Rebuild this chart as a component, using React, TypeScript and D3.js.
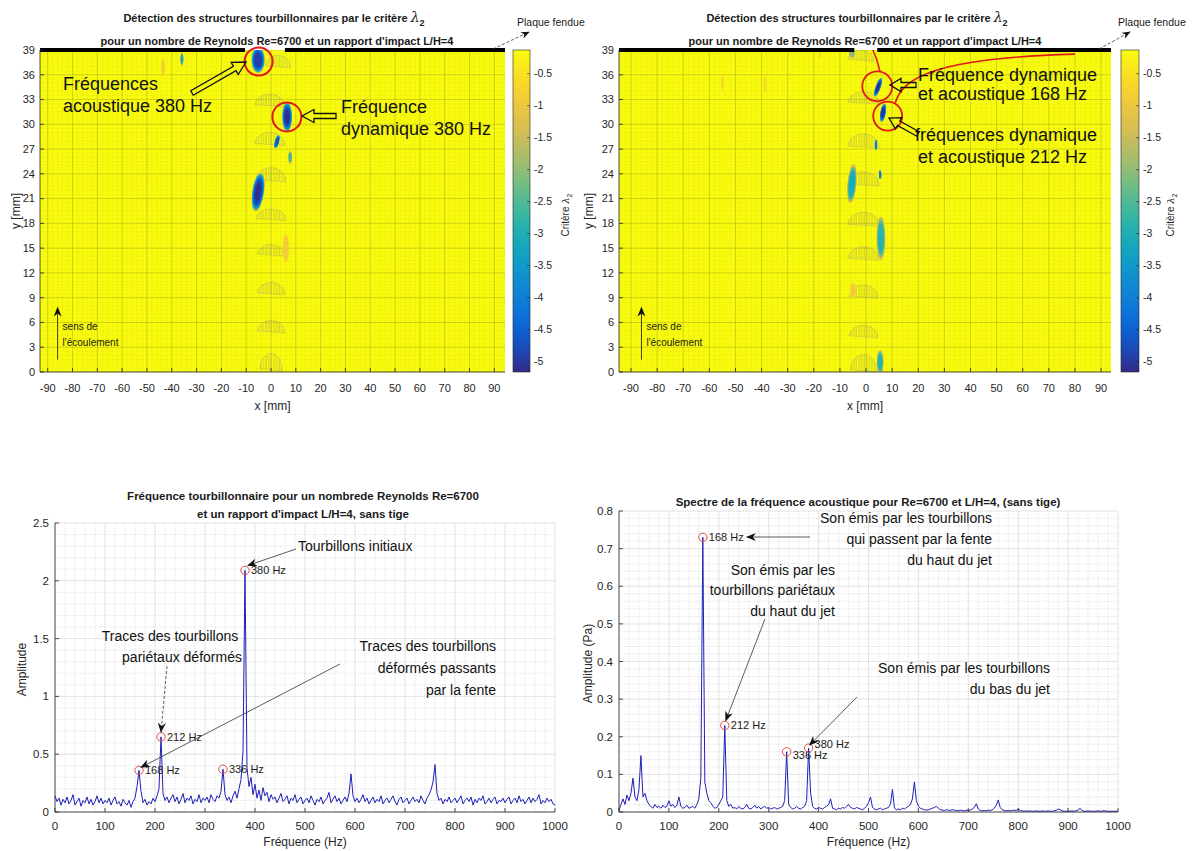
import React from 'react';
import * as d3 from 'd3';

const W = 1204;
const H = 851;
const FONT = "'Liberation Sans', Arial, Helvetica, sans-serif";

// ---------- heat-map data ----------
const mapXTicks = [-90, -80, -70, -60, -50, -40, -30, -20, -10, 0, 10, 20, 30, 40, 50, 60, 70, 80, 90];
const mapYTicks = [0, 3, 6, 9, 12, 15, 18, 21, 24, 27, 30, 33, 36, 39];
const cbTicks = [-0.5, -1, -1.5, -2, -2.5, -3, -3.5, -4, -4.5, -5];
const cbDomain = [-5.16, -0.13];
const parulaStops = ['#352a87', '#0363e1', '#1485d4', '#06a7c6', '#38b99e', '#92bf73', '#d9ba56', '#fcce2e', '#f9fb0e'];

// vortex cores: [x mm, y mm, rx mm, ry mm, min lambda2, angle deg]
const blobsLeft: number[][] = [
  [-5.2, 37.8, 2.7, 1.6, -5.1, 0],
  [6.5, 30.9, 2.0, 1.8, -5.15, 0],
  [2.4, 27.9, 0.85, 0.85, -4.9, 15],
  [7.7, 26.0, 0.7, 0.8, -2.8, 0],
  [-5.2, 21.8, 2.4, 2.4, -5.15, 8],
  [6.0, 15.0, 1.3, 1.8, -1.1, 0],
  [-35.9, 37.9, 0.6, 0.8, -3.2, 0],
  [-43.5, 36.9, 0.7, 1.2, -1.0, 0],
];
const blobsRight: number[][] = [
  [4.6, 34.5, 0.95, 1.25, -5.15, 20],
  [6.5, 31.4, 1.05, 1.15, -5.15, 10],
  [3.8, 27.5, 0.45, 0.65, -4.4, 0],
  [5.4, 23.9, 0.45, 0.55, -4.4, 0],
  [-5.4, 22.8, 1.7, 2.4, -3.2, 5],
  [5.7, 16.2, 1.7, 2.7, -3.0, 0],
  [-5.0, 9.9, 1.2, 0.9, -1.1, 0],
  [5.4, 1.2, 1.3, 1.5, -3.0, 0],
  [-5.4, 38.6, 1.2, 0.6, -2.2, 0],
  [-55, 35, 0.5, 1.0, -0.85, 0],
  [-38.7, 34.8, 0.5, 1.0, -0.85, 0],
  [-17.6, 38.7, 0.5, 0.8, -0.85, 0],
];
// hatched ghost structures: [x centre mm, top y mm, half width mm, height mm]
const domesLeft: number[][] = [
  [2.8, 38.6, 5, 1.4], [-0.5, 33.9, 6, 1.4], [-0.5, 29.3, 6, 1.5], [0, 25.0, 6, 1.6],
  [0, 20.0, 6, 1.3], [0, 15.7, 5.5, 1.3], [0, 11.1, 5.5, 1.4], [0, 6.5, 5.5, 1.4], [0, 2.5, 4.5, 2.0],
];
const domesRight: number[][] = [
  [-2, 39.2, 5, 1.2], [-1, 34.2, 6, 1.4], [-1, 29.1, 6, 1.6], [-1, 24.5, 6, 1.6],
  [-1, 19.6, 6, 1.6], [-1, 15.4, 6, 1.5], [-1, 10.8, 5.5, 1.5], [-1, 5.9, 5.5, 1.4], [-1, 2.4, 5, 2.0],
];
const plateLeft = [[-93.1, -10.5], [5.6, 94.3]];
const plateRight = [[-94.6, -4.5], [4.3, 93.8]];

// ---------- spectra data (step 4 Hz from 0 to 1000 Hz) ----------
const freqStep = 4;
const ampDyn = [
  0.14, 0.09, 0.12, 0.06, 0.11, 0.08, 0.13, 0.07, 0.10, 0.15, 0.06, 0.09, 0.12, 0.05, 0.10, 0.08, 0.13, 0.07, 0.11, 0.06, 0.09, 0.14, 0.08, 0.12, 0.07, 0.10,
  0.08, 0.12, 0.06, 0.10, 0.13, 0.07, 0.09, 0.05, 0.11, 0.08, 0.06, 0.10, 0.04, 0.09, 0.12, 0.22, 0.36, 0.18, 0.08, 0.11, 0.06, 0.09, 0.07, 0.12, 0.09,
  0.14, 0.20, 0.65, 0.16, 0.10, 0.13, 0.08, 0.12, 0.15, 0.09, 0.13, 0.07, 0.11, 0.16, 0.08, 0.12, 0.10, 0.14, 0.07, 0.11, 0.09, 0.15, 0.08, 0.12, 0.10,
  0.13, 0.08, 0.15, 0.11, 0.09, 0.14, 0.12, 0.18, 0.37, 0.15, 0.10, 0.13, 0.08, 0.14, 0.18, 0.12, 0.20, 0.28, 0.53, 2.09, 0.38, 0.22, 0.30, 0.15, 0.24,
  0.12, 0.19, 0.10, 0.21, 0.14, 0.17, 0.09, 0.15, 0.11, 0.13, 0.08, 0.12, 0.16, 0.09, 0.11, 0.14, 0.07, 0.12, 0.10, 0.15, 0.08, 0.11, 0.13, 0.07, 0.10,
  0.12, 0.08, 0.14, 0.10, 0.06, 0.11, 0.09, 0.13, 0.07, 0.10, 0.12, 0.17, 0.08, 0.11, 0.14, 0.09, 0.12, 0.07, 0.10, 0.13, 0.09, 0.16, 0.33, 0.14, 0.09,
  0.12, 0.08, 0.11, 0.15, 0.09, 0.12, 0.07, 0.10, 0.13, 0.08, 0.11, 0.09, 0.14, 0.07, 0.10, 0.12, 0.08, 0.11, 0.14, 0.09, 0.06, 0.11, 0.13, 0.08, 0.10,
  0.12, 0.07, 0.10, 0.13, 0.09, 0.11, 0.08, 0.14, 0.10, 0.07, 0.12, 0.15, 0.19, 0.26, 0.41, 0.16, 0.10, 0.12, 0.07, 0.11, 0.09, 0.13, 0.08, 0.10, 0.12,
  0.08, 0.11, 0.14, 0.07, 0.10, 0.12, 0.09, 0.13, 0.06, 0.11, 0.08, 0.12, 0.10, 0.14, 0.07, 0.09, 0.12, 0.08, 0.11, 0.13, 0.07, 0.10, 0.09, 0.12, 0.08,
  0.11, 0.13, 0.07, 0.10, 0.12, 0.08, 0.14, 0.09, 0.11, 0.07, 0.10, 0.13, 0.08, 0.12, 0.09, 0.11, 0.15, 0.07, 0.10, 0.08, 0.12, 0.09, 0.11, 0.07, 0.06,
];
const ampAco = [
  0.005, 0.02, 0.035, 0.02, 0.045, 0.03, 0.05, 0.09, 0.04, 0.03, 0.06, 0.15, 0.04, 0.05, 0.03, 0.02, 0.015, 0.01, 0.02, 0.012, 0.015, 0.01, 0.018, 0.012, 0.015, 0.03,
  0.015, 0.02, 0.012, 0.018, 0.04, 0.015, 0.01, 0.012, 0.018, 0.01, 0.012, 0.015, 0.01, 0.02, 0.035, 0.09, 0.73, 0.08, 0.05, 0.03, 0.025, 0.015, 0.01, 0.012, 0.02,
  0.03, 0.04, 0.23, 0.03, 0.015, 0.02, 0.01, 0.012, 0.008, 0.015, 0.01, 0.008, 0.012, 0.02, 0.01, 0.008, 0.012, 0.018, 0.01, 0.015, 0.008, 0.012, 0.015, 0.01, 0.012,
  0.008, 0.01, 0.012, 0.008, 0.01, 0.012, 0.015, 0.03, 0.16, 0.02, 0.012, 0.008, 0.01, 0.015, 0.01, 0.008, 0.012, 0.015, 0.03, 0.17, 0.05, 0.015, 0.01, 0.008, 0.012,
  0.01, 0.008, 0.012, 0.015, 0.02, 0.035, 0.01, 0.008, 0.006, 0.01, 0.008, 0.012, 0.01, 0.015, 0.02, 0.012, 0.01, 0.008, 0.012, 0.01, 0.008, 0.006, 0.01, 0.015, 0.025,
  0.04, 0.012, 0.008, 0.006, 0.008, 0.01, 0.006, 0.008, 0.01, 0.012, 0.02, 0.06, 0.01, 0.006, 0.008, 0.006, 0.01, 0.008, 0.012, 0.015, 0.02, 0.035, 0.08, 0.03, 0.015,
  0.01, 0.008, 0.006, 0.005, 0.006, 0.008, 0.01, 0.012, 0.015, 0.01, 0.006, 0.005, 0.004, 0.006, 0.005, 0.004, 0.006, 0.005, 0.004, 0.003, 0.005, 0.004, 0.003, 0.005, 0.004,
  0.005, 0.008, 0.012, 0.022, 0.008, 0.004, 0.003, 0.004, 0.003, 0.005, 0.004, 0.006, 0.01, 0.018, 0.032, 0.012, 0.006, 0.004, 0.003, 0.004, 0.003, 0.004, 0.005, 0.004, 0.008,
  0.004, 0.003, 0.002, 0.003, 0.002, 0.003, 0.002, 0.002, 0.003, 0.002, 0.002, 0.003, 0.002, 0.002, 0.003, 0.002, 0.002, 0.003, 0.004, 0.008, 0.006, 0.003, 0.002, 0.002, 0.002,
  0.002, 0.003, 0.002, 0.003, 0.005, 0.01, 0.004, 0.002, 0.002, 0.003, 0.002, 0.002, 0.002, 0.002, 0.003, 0.002, 0.002, 0.004, 0.002, 0.002, 0.002, 0.002, 0.002, 0.002, 0.002,
];
const peaksDyn = [[380, 2.09], [212, 0.65], [168, 0.36], [336, 0.37]];
const peaksAco = [[168, 0.73], [212, 0.23], [336, 0.16], [380, 0.17]];
const freqTicks = [0, 100, 200, 300, 400, 500, 600, 700, 800, 900, 1000];
const dynYTicks = [0, 0.5, 1, 1.5, 2, 2.5];
const acoYTicks = [0, 0.1, 0.2, 0.3, 0.4, 0.5, 0.6, 0.7, 0.8];

const color = d3.scaleSequential(d3.interpolateRgbBasis(parulaStops)).domain(cbDomain);

function hollowArrow(x1: number, y1: number, x2: number, y2: number, sw = 3, hw = 7, hl = 12) {
  const dx = x2 - x1, dy = y2 - y1, L = Math.hypot(dx, dy);
  const ux = dx / L, uy = dy / L, nx = -uy, ny = ux;
  const bx = x2 - ux * hl, by = y2 - uy * hl;
  const pts = [
    [x1 + nx * sw, y1 + ny * sw], [bx + nx * sw, by + ny * sw], [bx + nx * hw, by + ny * hw], [x2, y2],
    [bx - nx * hw, by - ny * hw], [bx - nx * sw, by - ny * sw], [x1 - nx * sw, y1 - ny * sw],
  ];
  return 'M' + pts.map((p) => p[0].toFixed(1) + ',' + p[1].toFixed(1)).join('L') + 'Z';
}

type MapProps = {
  id: string; px0: number; px1: number; xDomain: number[]; blobs: number[][]; domes: number[][]; plate: number[][];
  cbX: number; cbW: number; critX: number; yLabelX: number; titleX: number; title2X: number; plaqueX: number;
  children?: React.ReactNode;
};

function MapPanel(p: MapProps) {
  const py0 = 50, py1 = 372;
  const x = d3.scaleLinear().domain(p.xDomain).range([p.px0, p.px1]);
  const y = d3.scaleLinear().domain([0, 39]).range([py1, py0]);
  const cb = d3.scaleLinear().domain(cbDomain).range([py1, py0]);
  const bg = color(-0.13);
  const minorX = d3.range(Math.ceil(p.xDomain[0] / 2) * 2, p.xDomain[1], 2);
  const minorY = d3.range(0, 39, 0.5);
  const gradStops = d3.range(0, 1.0001, 0.05);
  return (
    <g>
      <defs>
        <clipPath id={p.id + 'clip'}><rect x={p.px0} y={py0} width={p.px1 - p.px0} height={py1 - py0} /></clipPath>
        <linearGradient id={p.id + 'grad'} x1="0" y1="1" x2="0" y2="0">
          {gradStops.map((t) => (
            <stop key={t} offset={t} stopColor={color(cbDomain[0] + t * (cbDomain[1] - cbDomain[0]))} />
          ))}
        </linearGradient>
      </defs>
      <text x={p.titleX} y={22} textAnchor="middle" fontFamily={FONT} fontWeight="bold" fontSize={11} fill="#1a1a1a">
        Détection des structures tourbillonnaires par le critère{' '}
        <tspan fontFamily="'DejaVu Serif', serif" fontStyle="italic" fontWeight="normal" fontSize={14}>λ</tspan>
        <tspan fontSize={9} dy={4}>2</tspan>
      </text>
      <text x={p.title2X} y={45} textAnchor="middle" fontFamily={FONT} fontWeight="bold" fontSize={11} fill="#1a1a1a">
        pour un nombre de Reynolds Re=6700 et un rapport d'impact L/H=4
      </text>
      <g clipPath={`url(#${p.id}clip)`}>
        <rect x={p.px0} y={py0} width={p.px1 - p.px0} height={py1 - py0} fill={bg} />
        {minorX.map((v) => (
          <line key={'mx' + v} x1={x(v)} x2={x(v)} y1={py0} y2={py1} stroke="#8c8c20" strokeOpacity={0.22} strokeWidth={0.6} strokeDasharray="1.5,1.5" />
        ))}
        {minorY.map((v) => (
          <line key={'my' + v} x1={p.px0} x2={p.px1} y1={y(v)} y2={y(v)} stroke="#8c8c20" strokeOpacity={0.18} strokeWidth={0.6} strokeDasharray="1.5,1.5" />
        ))}
        {mapXTicks.map((v) => (
          <line key={'gx' + v} x1={x(v)} x2={x(v)} y1={py0} y2={py1} stroke="#a5a520" strokeOpacity={0.55} strokeWidth={0.8} />
        ))}
        {mapYTicks.map((v) => (
          <line key={'gy' + v} x1={p.px0} x2={p.px1} y1={y(v)} y2={y(v)} stroke="#a5a520" strokeOpacity={0.55} strokeWidth={0.8} />
        ))}
        {p.domes.map((d, i) => {
          const [cx, top, hw, hh] = d;
          const l = x(cx - hw), r = x(cx + hw), t = y(top), b = y(top - hh);
          const rx = (r - l) / 2;
          const path = `M${l},${b + 1} A${rx},${b - t} 0 0 1 ${r},${b + 3} Z`;
          return <path key={'d' + i} d={path} fill={`url(#hatch)`} stroke="#a0a070" strokeOpacity={0.5} strokeWidth={0.7} />;
        })}
        <g filter="url(#soft)">
          {p.blobs.map((bl, i) => {
            const [bx, by, brx, bry, m, ang] = bl;
            const levels = d3.range(-0.5, m, -0.2).concat([m]);
            const cx = x(bx), cy = y(by);
            const rxp = Math.abs(x(brx) - x(0)), ryp = Math.abs(y(bry) - y(0));
            return (
              <g key={'b' + i} transform={`rotate(${ang},${cx},${cy})`}>
                {levels.map((v, k) => {
                  const t = (v + 0.5) / (m + 0.5);
                  const f = Math.pow(Math.max(0, 1 - t), 1 / 5.5);
                  return <ellipse key={k} cx={cx} cy={cy} rx={Math.max(0.3, rxp * f)} ry={Math.max(0.3, ryp * f)} fill={color(v)} />;
                })}
              </g>
            );
          })}
        </g>
      </g>
      {/* plate */}
      {p.plate.map((s, i) => (
        <line key={'pl' + i} x1={x(s[0])} x2={x(s[1])} y1={py0} y2={py0} stroke="#000" strokeWidth={4} />
      ))}
      {/* axes */}
      <line x1={p.px0} x2={p.px0} y1={py0} y2={py1} stroke="#262626" strokeWidth={0.8} />
      <line x1={p.px0} x2={p.px1} y1={py1} y2={py1} stroke="#262626" strokeWidth={0.8} />
      {mapYTicks.map((v) => (
        <g key={'yt' + v}>
          <line x1={p.px0} x2={p.px0 + 4} y1={y(v)} y2={y(v)} stroke="#262626" strokeWidth={0.8} />
          <text x={p.px0 - 5} y={y(v)} dy="0.35em" textAnchor="end" fontFamily={FONT} fontSize={11} fill="#262626">{v}</text>
        </g>
      ))}
      {mapXTicks.map((v) => (
        <g key={'xt' + v}>
          <line x1={x(v)} x2={x(v)} y1={py1} y2={py1 - 4} stroke="#262626" strokeWidth={0.8} />
          <text x={x(v)} y={388} dy="0.35em" textAnchor="middle" fontFamily={FONT} fontSize={11} fill="#262626">{v}</text>
        </g>
      ))}
      <text x={(p.px0 + p.px1) / 2} y={406} dy="0.35em" textAnchor="middle" fontFamily={FONT} fontSize={12} fill="#262626">x [mm]</text>
      <text transform={`translate(${p.yLabelX},211) rotate(-90)`} dy="0.35em" textAnchor="middle" fontFamily={FONT} fontSize={12} fill="#262626">y [mm]</text>
      {/* colorbar */}
      <rect x={p.cbX} y={py0} width={p.cbW} height={py1 - py0} fill={`url(#${p.id}grad)`} stroke="#262626" strokeWidth={0.6} />
      {cbTicks.map((v) => (
        <g key={'cb' + v}>
          <line x1={p.cbX + p.cbW} x2={p.cbX + p.cbW - 3} y1={cb(v)} y2={cb(v)} stroke="#262626" strokeWidth={0.6} />
          <text x={p.cbX + p.cbW + 4} y={cb(v)} dy="0.35em" fontFamily={FONT} fontSize={10.5} fill="#262626">{v}</text>
        </g>
      ))}
      <text transform={`translate(${p.critX},215) rotate(-90)`} dy="0.35em" textAnchor="middle" fontFamily={FONT} fontSize={10} fill="#262626">
        Critère <tspan fontFamily="'DejaVu Serif', serif" fontStyle="italic">λ</tspan><tspan fontSize={7} dy={3}>2</tspan>
      </text>
      {/* plaque fendue */}
      <text x={p.plaqueX} y={26} fontFamily={FONT} fontSize={10.5} fill="#1a1a1a">Plaque fendue</text>
      <line x1={x(p.xDomain[1]) - 12} y1={py0 - 1} x2={p.plaqueX + 12} y2={32} stroke="#333" strokeWidth={0.8} strokeDasharray="3,2" markerEnd="url(#ahSmall)" />
      {/* sens de l'ecoulement */}
      <line x1={x(-86)} x2={x(-86)} y1={y(1.5)} y2={y(7.8)} stroke="#111" strokeWidth={0.8} markerEnd="url(#ah)" />
      <text x={x(-86) + 5} y={y(5.5)} dy="0.35em" fontFamily={FONT} fontSize={10} fill="#1a1a1a">sens de</text>
      <text x={x(-86) + 5} y={y(3.6)} dy="0.35em" fontFamily={FONT} fontSize={10} fill="#1a1a1a">l'écoulement</text>
      {p.children}
    </g>
  );
}

type SpecProps = {
  x0: number; x1: number; y0: number; y1: number; yMax: number; yTicks: number[]; yMinor: number;
  amp: number[]; peaks: number[][]; title: string[]; titleX: number; titleY: number[]; yLabel: string; yLabelX: number;
  labelOffsets: number[][]; children?: (x: any, y: any) => React.ReactNode;
};

function SpecPanel(p: SpecProps) {
  const x = d3.scaleLinear().domain([0, 1000]).range([p.x0, p.x1]);
  const y = d3.scaleLinear().domain([0, p.yMax]).range([p.y1, p.y0]);
  const line = d3.line<number>().x((_, i) => x(i * freqStep)).y((v) => y(v));
  const minorX = d3.range(0, 1001, 20).filter((v) => v % 100 !== 0);
  const minorY = d3.range(0, p.yMax + 1e-9, p.yMinor).filter((v) => !p.yTicks.some((t) => Math.abs(t - v) < 1e-9));
  return (
    <g>
      {p.title.map((t, i) => (
        <text key={i} x={p.titleX} y={p.titleY[i]} dy="0.35em" textAnchor="middle" fontFamily={FONT} fontWeight="bold" fontSize={11.5} fill="#1a1a1a">{t}</text>
      ))}
      <rect x={p.x0} y={p.y0} width={p.x1 - p.x0} height={p.y1 - p.y0} fill="#fff" />
      {minorX.map((v) => (
        <line key={'mx' + v} x1={x(v)} x2={x(v)} y1={p.y0} y2={p.y1} stroke="#c8c8c8" strokeWidth={0.6} strokeDasharray="1,1.5" />
      ))}
      {minorY.map((v) => (
        <line key={'my' + v} x1={p.x0} x2={p.x1} y1={y(v)} y2={y(v)} stroke="#c8c8c8" strokeWidth={0.6} strokeDasharray="1,1.5" />
      ))}
      {freqTicks.map((v) => (
        <line key={'gx' + v} x1={x(v)} x2={x(v)} y1={p.y0} y2={p.y1} stroke="#dcdcdc" strokeWidth={0.8} />
      ))}
      {p.yTicks.map((v) => (
        <line key={'gy' + v} x1={p.x0} x2={p.x1} y1={y(v)} y2={y(v)} stroke="#dcdcdc" strokeWidth={0.8} />
      ))}
      <path d={line(p.amp) || ''} fill="none" stroke="#1f1fb8" strokeWidth={1} strokeLinejoin="round" />
      {p.peaks.map((pk, i) => (
        <g key={'pk' + i}>
          <circle cx={x(pk[0])} cy={y(pk[1])} r={4.2} fill="none" stroke="#e0504a" strokeWidth={1} />
          <text x={x(pk[0]) + 6 + p.labelOffsets[i][0]} y={y(pk[1]) + p.labelOffsets[i][1]} dy="0.35em" fontFamily={FONT} fontSize={11} fill="#1a1a1a">{pk[0]} Hz</text>
        </g>
      ))}
      <line x1={p.x0} x2={p.x0} y1={p.y0} y2={p.y1} stroke="#262626" strokeWidth={0.8} />
      <line x1={p.x0} x2={p.x1} y1={p.y1} y2={p.y1} stroke="#262626" strokeWidth={0.8} />
      {p.yTicks.map((v) => (
        <g key={'yt' + v}>
          <line x1={p.x0} x2={p.x0 + 4} y1={y(v)} y2={y(v)} stroke="#262626" strokeWidth={0.8} />
          <text x={p.x0 - 6} y={y(v)} dy="0.35em" textAnchor="end" fontFamily={FONT} fontSize={11.5} fill="#262626">{v}</text>
        </g>
      ))}
      {freqTicks.map((v) => (
        <g key={'xt' + v}>
          <line x1={x(v)} x2={x(v)} y1={p.y1} y2={p.y1 - 4} stroke="#262626" strokeWidth={0.8} />
          <text x={x(v)} y={p.y1 + 14} dy="0.35em" textAnchor="middle" fontFamily={FONT} fontSize={11.5} fill="#262626">{v}</text>
        </g>
      ))}
      <text x={(p.x0 + p.x1) / 2} y={842} dy="0.35em" textAnchor="middle" fontFamily={FONT} fontSize={12} fill="#262626">Fréquence (Hz)</text>
      <text transform={`translate(${p.yLabelX},${(p.y0 + p.y1) / 2 + 2}) rotate(-90)`} dy="0.35em" textAnchor="middle" fontFamily={FONT} fontSize={12} fill="#262626">{p.yLabel}</text>
      {p.children && p.children(x, y)}
    </g>
  );
}

const annoText = { fontFamily: FONT, fill: '#111' } as const;

export default function App() {
  const xl = d3.scaleLinear().domain([-93.1, 94.3]).range([40, 505]);
  const xr = d3.scaleLinear().domain([-94.6, 93.8]).range([619, 1111]);
  const ym = d3.scaleLinear().domain([0, 39]).range([372, 50]);
  return (
    <svg width={W} height={H} viewBox={`0 0 ${W} ${H}`} style={{ position: 'absolute', left: 0, top: 0, background: '#fff' }}>
      <defs>
        <pattern id="hatch" width={2.6} height={4} patternUnits="userSpaceOnUse">
          <line x1={1} x2={1} y1={0} y2={4} stroke="#8e8e6a" strokeWidth={0.7} strokeOpacity={0.6} />
        </pattern>
        <filter id="soft" x="-20%" y="-20%" width="140%" height="140%">
          <feGaussianBlur stdDeviation={0.6} />
        </filter>
        <marker id="ah" viewBox="0 0 10 8" refX={9} refY={4} markerWidth={10} markerHeight={8} markerUnits="userSpaceOnUse" orient="auto">
          <path d="M0,0 L10,4 L0,8 L3,4 Z" fill="#111" />
        </marker>
        <marker id="ahSmall" viewBox="0 0 10 8" refX={9} refY={4} markerWidth={9} markerHeight={7} markerUnits="userSpaceOnUse" orient="auto">
          <path d="M0,0 L10,4 L0,8 L3,4 Z" fill="#111" />
        </marker>
      </defs>
      <rect width={W} height={H} fill="#fff" />

      <MapPanel id="L" px0={40} px1={505} xDomain={[-93.1, 94.3]} blobs={blobsLeft} domes={domesLeft} plate={plateLeft}
        cbX={513} cbW={17} critX={565} yLabelX={16} titleX={274} title2X={277} plaqueX={517}>
        <circle cx={xl(-5.0)} cy={ym(37.6)} r={14} fill="none" stroke="#e01818" strokeWidth={2} />
        <circle cx={xl(6.4)} cy={ym(30.9)} r={14.5} fill="none" stroke="#e01818" strokeWidth={2} />
        <path d={hollowArrow(192, 93, 246, 62, 2.5, 7, 13)} fill="none" stroke="#111" strokeWidth={1.3} />
        <path d={hollowArrow(336, 116, 302, 116, 2.5, 6.5, 12)} fill="none" stroke="#111" strokeWidth={1.3} />
        <text x={63} y={84} dy="0.35em" fontSize={18} {...annoText}>Fréquences</text>
        <text x={63} y={106} dy="0.35em" fontSize={18} {...annoText}>acoustique 380 Hz</text>
        <text x={341} y={107} dy="0.35em" fontSize={18} {...annoText}>Fréquence</text>
        <text x={341} y={129} dy="0.35em" fontSize={18} {...annoText}>dynamique 380 Hz</text>
      </MapPanel>

      <MapPanel id="R" px0={619} px1={1111} xDomain={[-94.6, 93.8]} blobs={blobsRight} domes={domesRight} plate={plateRight}
        cbX={1121} cbW={18} critX={1170} yLabelX={589} titleX={857} title2X={865} plaqueX={1118}>
        <circle cx={xr(4.3)} cy={ym(34.6)} r={15} fill="none" stroke="#e01818" strokeWidth={1.8} />
        <circle cx={xr(8.3)} cy={ym(31.0)} r={14.5} fill="none" stroke="#e01818" strokeWidth={1.8} />
        <path d={`M${xr(2.6)},${ym(39)} Q${xr(4.5)},${ym(37.8)} ${xr(5.3)},${ym(36.4)}`} fill="none" stroke="#e01818" strokeWidth={1.6} />
        <path d={`M${xr(11.2)},${ym(32.6)} C${xr(14)},${ym(35.5)} ${xr(25)},${ym(38)} ${xr(80)},${ym(38.5)}`} fill="none" stroke="#e01818" strokeWidth={1.6} />
        <path d={hollowArrow(916, 85, 890, 85, 2.5, 6.5, 11)} fill="none" stroke="#111" strokeWidth={1.3} />
        <path d={hollowArrow(918, 134, 889, 118, 2.5, 6.5, 11)} fill="none" stroke="#111" strokeWidth={1.3} />
        <text x={918} y={75} dy="0.35em" fontSize={18} {...annoText}>Fréquence dynamique</text>
        <text x={918} y={94} dy="0.35em" fontSize={18} {...annoText}>et acoustique 168 Hz</text>
        <text x={915} y={135} dy="0.35em" fontSize={18} {...annoText}>fréquences dynamique</text>
        <text x={918} y={157} dy="0.35em" fontSize={18} {...annoText}>et acoustique 212 Hz</text>
      </MapPanel>

      <SpecPanel x0={55} x1={555} y0={523} y1={812} yMax={2.5} yTicks={dynYTicks} yMinor={0.1} amp={ampDyn} peaks={peaksDyn}
        title={['Fréquence tourbillonnaire pour un nombrede Reynolds Re=6700', "et un rapport d'impact L/H=4, sans tige"]}
        titleX={303} titleY={[496, 514]} yLabel="Amplitude" yLabelX={22}
        labelOffsets={[[0, 0], [0, 0], [0, 0], [0, 0]]}>
        {(x: any, y: any) => (
          <g>
            <text x={298} y={546} dy="0.35em" fontSize={14} {...annoText}>Tourbillons initiaux</text>
            <line x1={296} y1={549} x2={x(380) + 3} y2={y(2.09) - 5} stroke="#333" strokeWidth={0.8} markerEnd="url(#ah)" />
            <text x={170} y={636} dy="0.35em" textAnchor="middle" fontSize={14} {...annoText}>Traces des tourbillons</text>
            <text x={182} y={657} dy="0.35em" textAnchor="middle" fontSize={14} {...annoText}>pariétaux déformés</text>
            <line x1={167} y1={666} x2={x(212)} y2={y(0.65) - 5} stroke="#333" strokeWidth={0.8} strokeDasharray="3,2" markerEnd="url(#ah)" />
            <text x={496} y={646} dy="0.35em" textAnchor="end" fontSize={14} {...annoText}>Traces des tourbillons</text>
            <text x={496} y={668} dy="0.35em" textAnchor="end" fontSize={14} {...annoText}>déformés passants</text>
            <text x={496} y={690} dy="0.35em" textAnchor="end" fontSize={14} {...annoText}>par la fente</text>
            <line x1={340} y1={664} x2={x(168) + 2} y2={y(0.36) - 3} stroke="#333" strokeWidth={0.8} markerEnd="url(#ah)" />
          </g>
        )}
      </SpecPanel>

      <SpecPanel x0={619} x1={1118} y0={511} y1={812} yMax={0.8} yTicks={acoYTicks} yMinor={0.02} amp={ampAco} peaks={peaksAco}
        title={['Spectre de la fréquence acoustique pour Re=6700 et L/H=4, (sans tige)']}
        titleX={868} titleY={[502]} yLabel="Amplitude (Pa)" yLabelX={588}
        labelOffsets={[[0, 0], [0, 0], [0, 3], [0, -4]]}>
        {(x: any, y: any) => (
          <g>
            <text x={992} y={518} dy="0.35em" textAnchor="end" fontSize={14} {...annoText}>Son émis par les tourbillons</text>
            <text x={992} y={539} dy="0.35em" textAnchor="end" fontSize={14} {...annoText}>qui passent par la fente</text>
            <text x={992} y={560} dy="0.35em" textAnchor="end" fontSize={14} {...annoText}>du haut du jet</text>
            <line x1={810} y1={537} x2={x(168) + 44} y2={537} stroke="#333" strokeWidth={0.8} markerEnd="url(#ah)" />
            <text x={835} y={570} dy="0.35em" textAnchor="end" fontSize={14} {...annoText}>Son émis par les</text>
            <text x={835} y={590} dy="0.35em" textAnchor="end" fontSize={14} {...annoText}>tourbillons pariétaux</text>
            <text x={835} y={611} dy="0.35em" textAnchor="end" fontSize={14} {...annoText}>du haut du jet</text>
            <line x1={765} y1={619} x2={x(212) + 1} y2={y(0.23) - 5} stroke="#333" strokeWidth={0.8} markerEnd="url(#ah)" />
            <text x={1050} y={668} dy="0.35em" textAnchor="end" fontSize={14} {...annoText}>Son émis par les tourbillons</text>
            <text x={1050} y={689} dy="0.35em" textAnchor="end" fontSize={14} {...annoText}>du bas du jet</text>
            <line x1={857} y1={697} x2={x(380) + 1} y2={y(0.17) - 3} stroke="#333" strokeWidth={0.8} markerEnd="url(#ah)" />
          </g>
        )}
      </SpecPanel>
    </svg>
  );
}
